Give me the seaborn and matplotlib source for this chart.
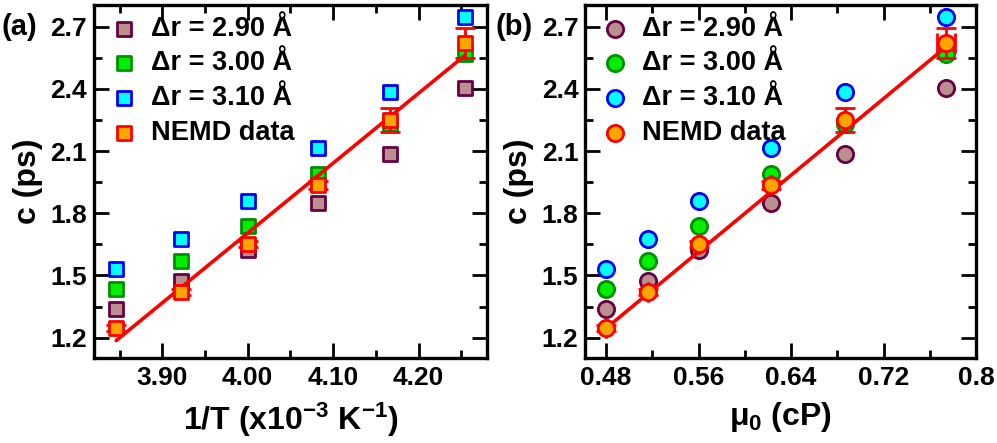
import numpy as np
import pandas as pd
import matplotlib
matplotlib.use("Agg")
import matplotlib.pyplot as plt
from matplotlib.ticker import FixedLocator
import seaborn as sns

# === Data ===
inv_T = [3.846, 3.922, 4.000, 4.082, 4.167, 4.255]      # 1/T (x10^-3 K^-1)
mu0 = [0.480, 0.516, 0.560, 0.623, 0.687, 0.774]        # viscosity (cP)

c_290 = [1.339, 1.471, 1.625, 1.849, 2.086, 2.404]
c_300 = [1.434, 1.571, 1.741, 1.991, 2.231, 2.570]
c_310 = [1.530, 1.677, 1.861, 2.117, 2.384, 2.748]
c_nemd = [1.245, 1.421, 1.653, 1.936, 2.252, 2.623]
c_nemd_err = [0.015, 0.015, 0.015, 0.02, 0.058, 0.072]
mu0_nemd_err = [0.0, 0.0, 0.0, 0.0, 0.0, 0.008]

fit_a_x = [3.846, 4.254]
fit_a_y = [1.186, 2.561]
fit_b_x = [0.480, 0.774]
fit_b_y = [1.245, 2.603]

labels = ["\u0394r = 2.90 \u00c5", "\u0394r = 3.00 \u00c5", "\u0394r = 3.10 \u00c5", "NEMD data"]

sns.set_style("ticks")
plt.rcParams["font.family"] = ["Liberation Sans", "DejaVu Sans"]
plt.rcParams["font.weight"] = "bold"
plt.rcParams["text.color"] = "black"
plt.rcParams["axes.labelcolor"] = "black"
plt.rcParams["axes.edgecolor"] = "black"
plt.rcParams["xtick.color"] = "black"
plt.rcParams["ytick.color"] = "black"
plt.rcParams["mathtext.fontset"] = "custom"
plt.rcParams["mathtext.rm"] = "Liberation Sans:bold"
plt.rcParams["mathtext.bf"] = "Liberation Sans:bold"
plt.rcParams["mathtext.it"] = "Liberation Sans"
plt.rcParams["mathtext.default"] = "bf"

df = pd.DataFrame({"inv_T": inv_T, "mu0": mu0, "c_290": c_290, "c_300": c_300,
                   "c_310": c_310, "c_nemd": c_nemd})

styles = [
    ("c_290", "#bc8f8f", "#660044"),
    ("c_300", "#00ee00", "#009000"),
    ("c_310", "#00ffff", "#0000ff"),
]

fig = plt.figure(figsize=(9.97, 4.43), dpi=100)
ax_a = fig.add_axes([0.0943, 0.192, 0.394, 0.797])
ax_b = fig.add_axes([0.587, 0.192, 0.392, 0.797])


def draw_panel(ax, xcol, marker, s, fit_x, fit_y, xerr):
    for (col, face, edge), lab in zip(styles, labels[:3]):
        sns.scatterplot(data=df, x=xcol, y=col, ax=ax, marker=marker, s=s,
                        color=face, edgecolor=edge, linewidth=2.0, label=lab, zorder=3)
    sns.lineplot(x=fit_x, y=fit_y, ax=ax, color="red", linewidth=2.6, zorder=4)
    ax.errorbar(df[xcol], df["c_nemd"], yerr=c_nemd_err, xerr=xerr, fmt="none",
                ecolor="red", elinewidth=2.0, capsize=7, capthick=2.0, zorder=5)
    sns.scatterplot(data=df, x=xcol, y="c_nemd", ax=ax, marker=marker, s=s,
                    color="#ffa500", edgecolor="red", linewidth=2.0, label=labels[3], zorder=6)
    ax.set_ylim(1.102, 2.806)
    ax.yaxis.set_major_locator(FixedLocator([1.2, 1.5, 1.8, 2.1, 2.4, 2.7]))
    ax.yaxis.set_minor_locator(FixedLocator([1.35, 1.65, 1.95, 2.25, 2.55]))
    ax.set_ylabel("c (ps)", fontsize=23, fontweight="bold")
    ax.yaxis.set_label_coords(-0.13, 0.5)
    for sp in ax.spines.values():
        sp.set_linewidth(2.4)
        sp.set_visible(True)
    ax.tick_params(which="major", direction="in", length=11, width=2.0,
                   top=True, right=True, labelsize=19, pad=6)
    ax.tick_params(which="minor", direction="in", length=6, width=2.0,
                   top=True, right=True)
    ax.tick_params(axis="y", pad=5)
    leg = ax.legend(loc="upper left", frameon=False, fontsize=19.5,
                    handlelength=1.4, handletextpad=0.3, labelspacing=0.32,
                    borderaxespad=0.2, borderpad=0.2)
    for t in leg.get_texts():
        t.set_fontweight("bold")


draw_panel(ax_a, "inv_T", "s", 104, fit_a_x, fit_a_y, None)
ax_a.set_xlim(3.82, 4.28)
ax_a.xaxis.set_major_locator(FixedLocator([3.90, 4.00, 4.10, 4.20]))
ax_a.xaxis.set_minor_locator(FixedLocator([3.85, 3.95, 4.05, 4.15, 4.25]))
ax_a.set_xticklabels(["3.90", "4.00", "4.10", "4.20"], fontweight="bold")
ax_a.set_xlabel("1/T (x10$^{-3}$ K$^{-1}$)", fontsize=23, fontweight="bold")

draw_panel(ax_b, "mu0", "o", 137, fit_b_x, fit_b_y, mu0_nemd_err)
ax_b.set_xlim(0.462, 0.80)
ax_b.xaxis.set_major_locator(FixedLocator([0.48, 0.56, 0.64, 0.72, 0.80]))
ax_b.xaxis.set_minor_locator(FixedLocator([0.52, 0.60, 0.68, 0.76]))
ax_b.set_xticklabels(["0.48", "0.56", "0.64", "0.72", "0.8"], fontweight="bold")
ax_b.set_xlabel(r"$\mathit{\mu}_0$ (cP)", fontsize=23, fontweight="bold")

for ax in (ax_a, ax_b):
    ax.xaxis.set_label_coords(0.5, -0.12)
    for t in ax.get_yticklabels():
        t.set_fontweight("bold")

fig.text(0.002, 0.94, "(a)", fontsize=21, fontweight="bold", va="center", ha="left")
fig.text(0.497, 0.94, "(b)", fontsize=21, fontweight="bold", va="center", ha="left")

fig.savefig("out.png", dpi=100)
plt.close(fig)
